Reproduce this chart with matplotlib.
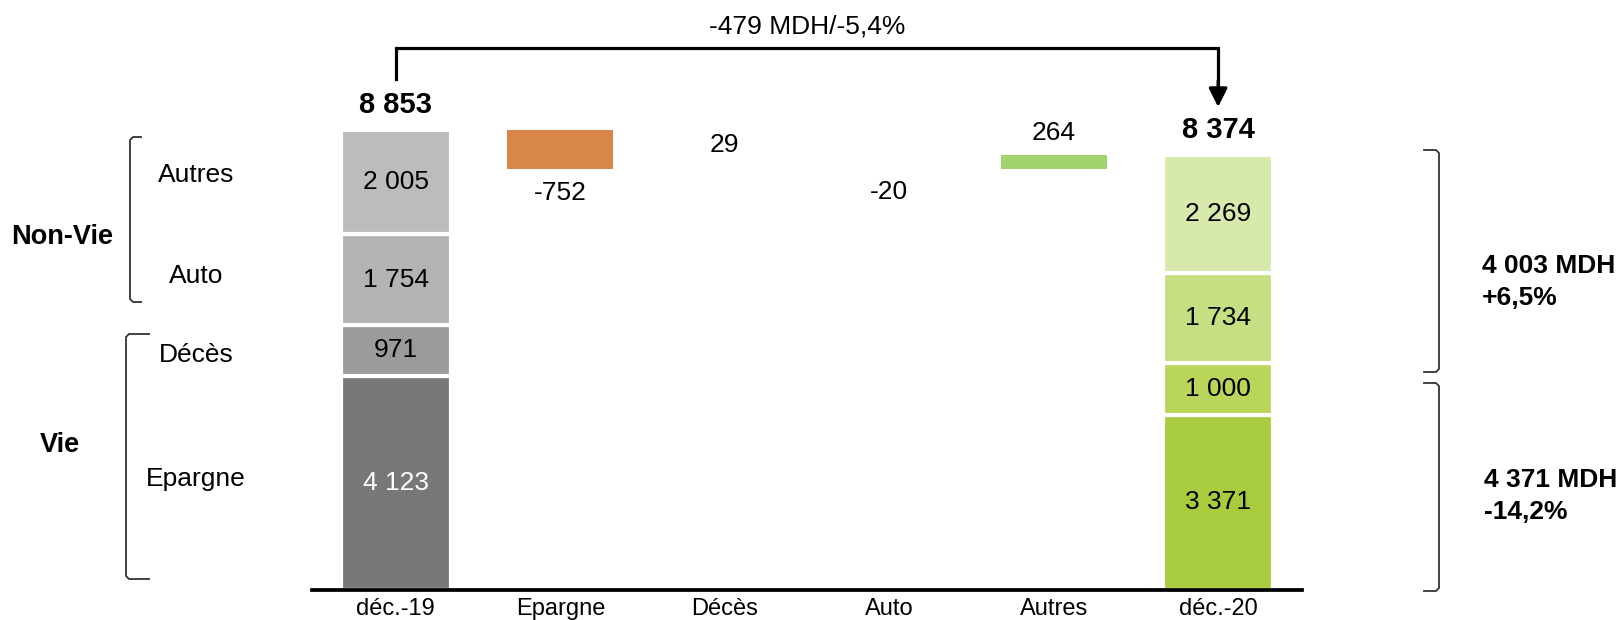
import matplotlib.pyplot as plt

categories = ["déc.-19", "Epargne", "Décès", "Auto", "Autres", "déc.-20"]
segments = ["Epargne", "Décès", "Auto", "Autres"]
values_2019 = [4123, 971, 1754, 2005]
values_2020 = [3371, 1000, 1734, 2269]
non_vie = ["Auto", "Autres"]
vie = ["Epargne", "Décès"]

colors_2019 = ["#787878", "#9b9b9b", "#b3b3b3", "#bdbbbb"]
colors_2020 = ["#a9cc3f", "#b9d65b", "#c6df82", "#d7e9ab"]
text_2019 = ["white", "black", "black", "black"]
neg_color = "#d9864a"
pos_color = "#a3d36f"

plt.rcParams['font.family'] = ['Liberation Sans', 'DejaVu Sans']


def fmt(v):
    return f"{v:,}".replace(",", " ")


def pct(a, b):
    return f"{(a / b - 1) * 100:+.1f}%".replace(".", ",")


W, H = 1619, 620
fig = plt.figure(figsize=(W / 100, H / 100), dpi=100)
ax = fig.add_axes([312 / W, (H - 589.6) / H, (1302 - 312) / W, 589.6 / H])
ax.set_xlim(-0.51, 5.51)
ax.set_ylim(0, 11358)

bw = 0.67

# stacked totals
for x, vals, cols, tcols in [(0, values_2019, colors_2019, text_2019),
                             (5, values_2020, colors_2020, ["black"] * 4)]:
    bottom = 0
    for v, c, tc in zip(vals, cols, tcols):
        ax.bar(x, v, bottom=bottom, width=bw, color=c, edgecolor="white", linewidth=3)
        ax.text(x, bottom + v / 2, fmt(v), ha="center", va="center", fontsize=19, color=tc)
        bottom += v
    ax.annotate(fmt(bottom), (x, bottom), xytext=(0, 18), textcoords="offset points",
                ha="center", va="center", fontsize=21, fontweight="bold")

# waterfall steps (tiny moves are too thin to show)
total_2019 = sum(values_2019)
total_2020 = sum(values_2020)
level = total_2019
for i, (a, b) in enumerate(zip(values_2019, values_2020)):
    d = b - a
    x = i + 1
    show = abs(d) > 50
    if d < 0:
        if show:
            ax.bar(x, -d, bottom=level + d, width=0.645, color=neg_color)
        ax.annotate(str(d), (x, level + d), xytext=(0, -17), textcoords="offset points",
                    ha="center", va="center", fontsize=19)
    else:
        if show:
            ax.bar(x, d, bottom=level, width=0.645, color=pos_color)
        ax.annotate(str(d), (x, level + d), xytext=(0, 16), textcoords="offset points",
                    ha="center", va="center", fontsize=19)
    level += d

# overall change connector
diff = total_2020 - total_2019
y_top = 10424
ax.plot([0, 0, 5, 5], [9827, y_top, y_top, 9700], color="black", lw=2.3,
        solid_joinstyle="miter", clip_on=False)
ax.annotate("", xy=(5, 9297), xytext=(5, 9800),
            arrowprops=dict(arrowstyle="-|>", lw=2.3, color="black", mutation_scale=28,
                            shrinkA=0, shrinkB=0), annotation_clip=False)
ax.text(2.5, 10857, f"{diff} MDH/{pct(total_2020, total_2019)}", ha="center", va="center",
        fontsize=19)

ax.set_xticks(range(len(categories)), categories, fontsize=17)
ax.tick_params(axis="x", length=0, pad=6)
ax.set_yticks([])
for s in ["top", "left", "right"]:
    ax.spines[s].set_visible(False)
ax.spines["bottom"].set_linewidth(2.7)
ax.set_facecolor("none")

# overlay in pixel coordinates for side annotations
ov = fig.add_axes([0, 0, 1, 1])
ov.set_xlim(0, W)
ov.set_ylim(H, 0)
ov.axis("off")
ov.set_facecolor("none")


def bracket(x, y0, y1, tip, side):
    r = 3 * side
    xs = [tip, x + r, x, x, x + r, tip]
    ys = [y0, y0, y0 + 3, y1 - 3, y1, y1]
    ov.plot(xs, ys, color="#333333", lw=1.3)


bracket(130, 137, 302, 141, 1)
bracket(126, 334, 579, 149, 1)
bracket(1439, 150, 372, 1424, -1)
bracket(1439, 383, 591, 1424, -1)

ov.text(62, 237, "Non-Vie", ha="center", va="center", fontsize=19.5, fontweight="bold")
ov.text(60, 445, "Vie", ha="center", va="center", fontsize=19.5, fontweight="bold")
for name, y in zip(["Autres", "Auto", "Décès", "Epargne"], [175, 276, 355, 479]):
    ov.text(196, y, name, ha="center", va="center", fontsize=19)

nv19 = sum(v for s, v in zip(segments, values_2019) if s in non_vie)
nv20 = sum(v for s, v in zip(segments, values_2020) if s in non_vie)
v19 = sum(v for s, v in zip(segments, values_2019) if s in vie)
v20 = sum(v for s, v in zip(segments, values_2020) if s in vie)
ov.text(1482, 266, f"{fmt(nv20)} MDH", ha="left", va="center", fontsize=19, fontweight="bold")
ov.text(1482, 298, pct(nv20, nv19), ha="left", va="center", fontsize=19, fontweight="bold")
ov.text(1484, 480, f"{fmt(v20)} MDH", ha="left", va="center", fontsize=19, fontweight="bold")
ov.text(1484, 512, pct(v20, v19), ha="left", va="center", fontsize=19, fontweight="bold")

fig.savefig("out.png", dpi=100)
